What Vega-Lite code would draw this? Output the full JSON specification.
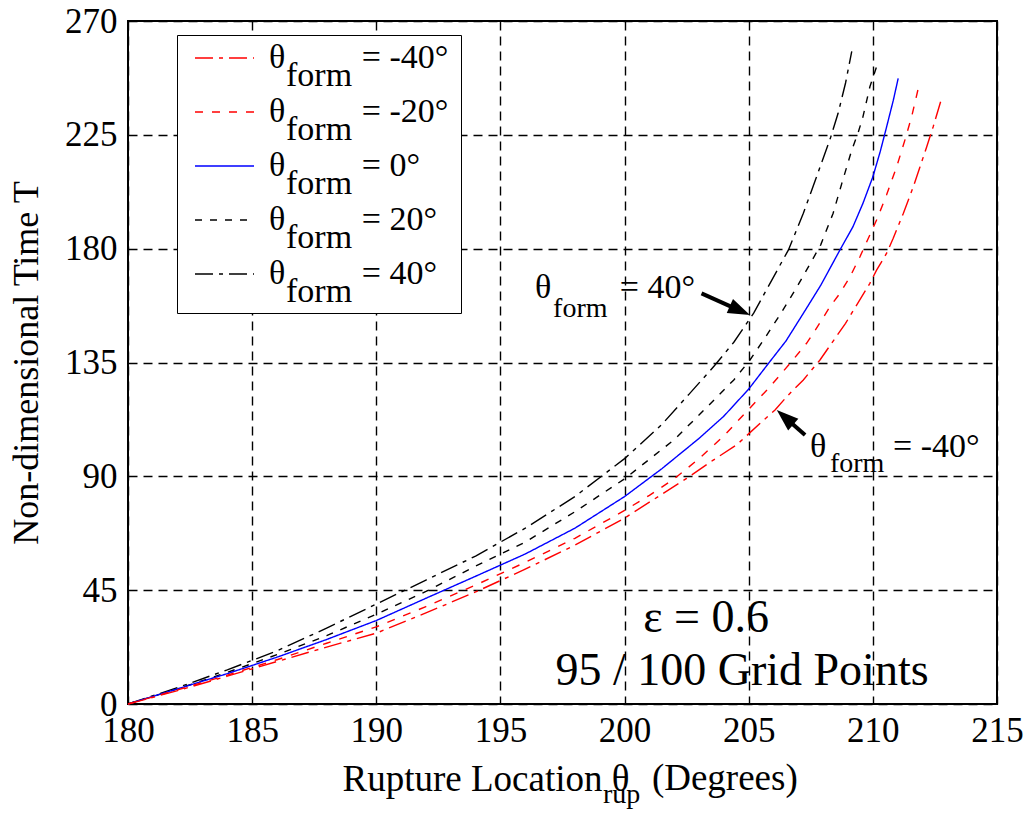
{
  "$schema": "https://vega.github.io/schema/vega-lite/v6.json",
  "width": 869,
  "height": 683,
  "autosize": {"type": "none"},
  "padding": {"left": 128, "top": 21, "right": 29, "bottom": 111},
  "background": "white",
  "config": {
    "font": "Liberation Serif",
    "view": {"stroke": "black", "strokeWidth": 2},
    "axis": {
      "grid": true,
      "gridColor": "black",
      "gridDash": [9, 6],
      "gridWidth": 1.4,
      "gridOpacity": 1,
      "domain": false,
      "ticks": false,
      "tickSize": 0,
      "labelFont": "Liberation Serif",
      "labelFontSize": 35,
      "labelColor": "black",
      "labelFlush": false,
      "labelOverlap": false,
      "titleFont": "Liberation Serif",
      "titleFontSize": 36,
      "titleFontWeight": "normal",
      "titleColor": "black"
    }
  },
  "layer": [
    {
      "data": {
        "values": [
          {"form": "40", "theta": 180, "T": 0}, {"form": "40", "theta": 182, "T": 6.5}, {"form": "40", "theta": 184, "T": 13.5}, {"form": "40", "theta": 186, "T": 21}, {"form": "40", "theta": 188, "T": 30}, {"form": "40", "theta": 190, "T": 39.5}, {"form": "40", "theta": 192, "T": 49}, {"form": "40", "theta": 194, "T": 58.5}, {"form": "40", "theta": 196, "T": 69.5}, {"form": "40", "theta": 198, "T": 82}, {"form": "40", "theta": 200, "T": 97}, {"form": "40", "theta": 201.5, "T": 110.5}, {"form": "40", "theta": 202.6, "T": 122.5}, {"form": "40", "theta": 203.6, "T": 133.5}, {"form": "40", "theta": 204.4, "T": 143}, {"form": "40", "theta": 205.2, "T": 154.5}, {"form": "40", "theta": 205.7, "T": 163.5}, {"form": "40", "theta": 206.6, "T": 179.5}, {"form": "40", "theta": 207.2, "T": 194}, {"form": "40", "theta": 207.7, "T": 207.5}, {"form": "40", "theta": 208.3, "T": 224}, {"form": "40", "theta": 208.6, "T": 233.5}, {"form": "40", "theta": 208.9, "T": 245.5}, {"form": "40", "theta": 209.15, "T": 258},
          {"form": "20", "theta": 180, "T": 0}, {"form": "20", "theta": 182, "T": 6}, {"form": "20", "theta": 184, "T": 12.5}, {"form": "20", "theta": 186, "T": 19.5}, {"form": "20", "theta": 188, "T": 27}, {"form": "20", "theta": 190, "T": 35.5}, {"form": "20", "theta": 192, "T": 44.5}, {"form": "20", "theta": 194, "T": 54.5}, {"form": "20", "theta": 196, "T": 64}, {"form": "20", "theta": 198, "T": 76}, {"form": "20", "theta": 200, "T": 89}, {"form": "20", "theta": 202, "T": 104.5}, {"form": "20", "theta": 203.2, "T": 116.2}, {"form": "20", "theta": 204.4, "T": 128.1}, {"form": "20", "theta": 205.05, "T": 136}, {"form": "20", "theta": 205.6, "T": 143.9}, {"form": "20", "theta": 206.3, "T": 154.5}, {"form": "20", "theta": 206.95, "T": 165}, {"form": "20", "theta": 207.5, "T": 174.5}, {"form": "20", "theta": 207.9, "T": 181.5}, {"form": "20", "theta": 208.4, "T": 194}, {"form": "20", "theta": 208.75, "T": 205.8}, {"form": "20", "theta": 209.15, "T": 219}, {"form": "20", "theta": 209.4, "T": 225.6}, {"form": "20", "theta": 209.6, "T": 232.1}, {"form": "20", "theta": 209.88, "T": 244}, {"form": "20", "theta": 210.15, "T": 251.9},
          {"form": "0", "theta": 180, "T": 0}, {"form": "0", "theta": 182, "T": 6}, {"form": "0", "theta": 184, "T": 12}, {"form": "0", "theta": 186, "T": 18.5}, {"form": "0", "theta": 188, "T": 25.5}, {"form": "0", "theta": 190, "T": 33}, {"form": "0", "theta": 192, "T": 41.8}, {"form": "0", "theta": 194, "T": 50.5}, {"form": "0", "theta": 196, "T": 59.3}, {"form": "0", "theta": 198, "T": 69.5}, {"form": "0", "theta": 200, "T": 82}, {"form": "0", "theta": 201.5, "T": 93}, {"form": "0", "theta": 203, "T": 105}, {"form": "0", "theta": 204, "T": 113.8}, {"form": "0", "theta": 205, "T": 124.5}, {"form": "0", "theta": 205.8, "T": 134.7}, {"form": "0", "theta": 206.5, "T": 143.5}, {"form": "0", "theta": 207.3, "T": 156}, {"form": "0", "theta": 207.9, "T": 165.5}, {"form": "0", "theta": 208.67, "T": 179.4}, {"form": "0", "theta": 209.2, "T": 188.7}, {"form": "0", "theta": 209.6, "T": 197.9}, {"form": "0", "theta": 210, "T": 208.4}, {"form": "0", "theta": 210.3, "T": 218.5}, {"form": "0", "theta": 210.55, "T": 228}, {"form": "0", "theta": 210.82, "T": 238.5}, {"form": "0", "theta": 211.02, "T": 247.3},
          {"form": "-20", "theta": 180, "T": 0}, {"form": "-20", "theta": 182, "T": 5.6}, {"form": "-20", "theta": 184, "T": 11.4}, {"form": "-20", "theta": 186, "T": 17.5}, {"form": "-20", "theta": 188, "T": 24}, {"form": "-20", "theta": 190, "T": 30.5}, {"form": "-20", "theta": 192, "T": 38.5}, {"form": "-20", "theta": 194, "T": 47}, {"form": "-20", "theta": 196, "T": 56}, {"form": "-20", "theta": 198, "T": 65.5}, {"form": "-20", "theta": 200, "T": 76.5}, {"form": "-20", "theta": 201, "T": 82.5}, {"form": "-20", "theta": 202, "T": 89}, {"form": "-20", "theta": 203, "T": 97}, {"form": "-20", "theta": 204, "T": 106}, {"form": "-20", "theta": 205, "T": 116.5}, {"form": "-20", "theta": 205.8, "T": 124.8}, {"form": "-20", "theta": 206.67, "T": 134.7}, {"form": "-20", "theta": 207.33, "T": 142.6}, {"form": "-20", "theta": 207.6, "T": 146.5}, {"form": "-20", "theta": 208.27, "T": 157}, {"form": "-20", "theta": 208.67, "T": 162.3}, {"form": "-20", "theta": 209.08, "T": 168.9}, {"form": "-20", "theta": 209.48, "T": 176.8}, {"form": "-20", "theta": 210.15, "T": 191.3}, {"form": "-20", "theta": 210.55, "T": 201.2}, {"form": "-20", "theta": 210.96, "T": 212.4}, {"form": "-20", "theta": 211.29, "T": 222.9}, {"form": "-20", "theta": 211.56, "T": 232.1}, {"form": "-20", "theta": 211.83, "T": 243.4},
          {"form": "-40", "theta": 180, "T": 0}, {"form": "-40", "theta": 182, "T": 5.3}, {"form": "-40", "theta": 184, "T": 11}, {"form": "-40", "theta": 186, "T": 16.8}, {"form": "-40", "theta": 188, "T": 22.5}, {"form": "-40", "theta": 190, "T": 28}, {"form": "-40", "theta": 192, "T": 36}, {"form": "-40", "theta": 194, "T": 44.3}, {"form": "-40", "theta": 196, "T": 53.3}, {"form": "-40", "theta": 198, "T": 62.8}, {"form": "-40", "theta": 200, "T": 73.5}, {"form": "-40", "theta": 202.5, "T": 89.2}, {"form": "-40", "theta": 203.57, "T": 96.4}, {"form": "-40", "theta": 204.51, "T": 102.4}, {"form": "-40", "theta": 205.45, "T": 110.9}, {"form": "-40", "theta": 206.06, "T": 116.2}, {"form": "-40", "theta": 206.53, "T": 121.5}, {"form": "-40", "theta": 207.2, "T": 128.1}, {"form": "-40", "theta": 207.87, "T": 136}, {"form": "-40", "theta": 208.9, "T": 150.5}, {"form": "-40", "theta": 209.88, "T": 166.3}, {"form": "-40", "theta": 210.15, "T": 171.5}, {"form": "-40", "theta": 210.55, "T": 178.1}, {"form": "-40", "theta": 210.82, "T": 184.1}, {"form": "-40", "theta": 211.23, "T": 194}, {"form": "-40", "theta": 211.63, "T": 204.5}, {"form": "-40", "theta": 211.9, "T": 212.4}, {"form": "-40", "theta": 212.17, "T": 220.3}, {"form": "-40", "theta": 212.43, "T": 228.2}, {"form": "-40", "theta": 212.73, "T": 238.1}
        ]
      },
      "mark": {"type": "line", "strokeWidth": 1.4},
      "encoding": {
        "x": {
          "field": "theta",
          "type": "quantitative",
          "scale": {"domain": [180, 215], "nice": false, "zero": false},
          "axis": {"values": [180, 185, 190, 195, 200, 205, 210, 215], "labelPadding": 9, "title": "Rupture Location θ", "titleFontSize": 37, "titleX": 214, "titleY": 86, "titleAlign": "left", "titleAnchor": "start", "titleBaseline": "alphabetic"}
        },
        "y": {
          "field": "T",
          "type": "quantitative",
          "scale": {"domain": [0, 270], "nice": false, "zero": false},
          "axis": {"values": [0, 45, 90, 135, 180, 225, 270], "labelPadding": 11, "titlePadding": 19, "title": "Non-dimensional Time T"}
        },
        "color": {
          "field": "form",
          "type": "nominal",
          "scale": {"domain": ["-40", "-20", "0", "20", "40"], "range": ["#ff0000", "#ff0000", "#0000ff", "#000000", "#000000"]},
          "legend": {
            "title": null,
            "orient": "none",
            "legendX": 49,
            "legendY": 14,
            "symbolType": "M-1.6389,0L1.6389,0",
            "symbolSize": 1296,
            "symbolStrokeWidth": 1.5,
            "symbolOffset": 24.5,
            "labelOffset": 25.5,
            "labelFont": "Liberation Serif",
            "labelFontSize": 34,
            "labelColor": "black",
            "labelBaseline": "middle",
            "labelLimit": 600,
            "labelExpr": "['θ\u00a0\u00a0\u00a0\u00a0\u00a0\u00a0\u00a0\u00a0\u00a0= ' + datum.label + '°\u00a0\u200d', '\u200d\u00a0\u00a0form']",
            "padding": 4,
            "rowPadding": 0,
            "strokeColor": "black",
            "fillColor": "white",
            "encoding": {"labels": {"lineHeight": {"value": 18}}}
          }
        },
        "strokeDash": {
          "field": "form",
          "type": "nominal",
          "scale": {"domain": ["-40", "-20", "0", "20", "40"], "range": [[18, 6, 4, 6], [8, 9], [1, 0], [7, 8], [18, 6, 4, 6]]},
          "legend": {"title": null}
        }
      }
    },
    {
      "data": {"values": [{}]},
      "mark": {"type": "text", "text": "θ", "font": "Liberation Serif", "fontSize": 34, "align": "left", "baseline": "alphabetic", "color": "black"},
      "encoding": {"x": {"datum": 196.39, "type": "quantitative"}, "y": {"datum": 160.5, "type": "quantitative"}}
    },
    {
      "data": {"values": [{}]},
      "mark": {"type": "text", "text": "= 40°", "font": "Liberation Serif", "fontSize": 34, "align": "left", "baseline": "alphabetic", "color": "black"},
      "encoding": {"x": {"datum": 199.81, "type": "quantitative"}, "y": {"datum": 160.5, "type": "quantitative"}}
    },
    {
      "data": {"values": [{}]},
      "mark": {"type": "text", "text": "form", "font": "Liberation Serif", "fontSize": 28, "align": "left", "baseline": "alphabetic", "color": "black"},
      "encoding": {"x": {"datum": 197.12, "type": "quantitative"}, "y": {"datum": 153.1, "type": "quantitative"}}
    },
    {
      "data": {"values": [{}]},
      "mark": {"type": "text", "text": "θ", "font": "Liberation Serif", "fontSize": 34, "align": "left", "baseline": "alphabetic", "color": "black"},
      "encoding": {"x": {"datum": 207.47, "type": "quantitative"}, "y": {"datum": 97.6, "type": "quantitative"}}
    },
    {
      "data": {"values": [{}]},
      "mark": {"type": "text", "text": "= -40°", "font": "Liberation Serif", "fontSize": 34, "align": "left", "baseline": "alphabetic", "color": "black"},
      "encoding": {"x": {"datum": 210.81, "type": "quantitative"}, "y": {"datum": 97.6, "type": "quantitative"}}
    },
    {
      "data": {"values": [{}]},
      "mark": {"type": "text", "text": "form", "font": "Liberation Serif", "fontSize": 28, "align": "left", "baseline": "alphabetic", "color": "black"},
      "encoding": {"x": {"datum": 208.27, "type": "quantitative"}, "y": {"datum": 91.8, "type": "quantitative"}}
    },
    {
      "data": {"values": [{}]},
      "mark": {"type": "text", "text": "ε = 0.6", "font": "Liberation Serif", "fontSize": 46, "align": "center", "baseline": "alphabetic", "color": "black"},
      "encoding": {"x": {"datum": 203.28, "type": "quantitative"}, "y": {"datum": 28.5, "type": "quantitative"}}
    },
    {
      "data": {"values": [{}]},
      "mark": {"type": "text", "text": "95 / 100 Grid Points", "font": "Liberation Serif", "fontSize": 46, "align": "center", "baseline": "alphabetic", "color": "black"},
      "encoding": {"x": {"datum": 204.73, "type": "quantitative"}, "y": {"datum": 7.5, "type": "quantitative"}}
    },
    {
      "data": {"values": [{}]},
      "mark": {"type": "text", "text": "rup", "font": "Liberation Serif", "fontSize": 28, "align": "left", "baseline": "alphabetic", "color": "black"},
      "encoding": {"x": {"datum": 199.13, "type": "quantitative"}, "y": {"datum": -39.1, "type": "quantitative"}}
    },
    {
      "data": {"values": [{}]},
      "mark": {"type": "text", "text": "(Degrees)", "font": "Liberation Serif", "fontSize": 37, "align": "left", "baseline": "alphabetic", "color": "black"},
      "encoding": {"x": {"datum": 201.1, "type": "quantitative"}, "y": {"datum": -34.0, "type": "quantitative"}}
    },
    {
      "data": {"values": [{}]},
      "mark": {"type": "rule", "strokeWidth": 4, "color": "black"},
      "encoding": {"x": {"datum": 203.1, "type": "quantitative"}, "y": {"datum": 162.3, "type": "quantitative"}, "x2": {"datum": 204.6}, "y2": {"datum": 155.7}}
    },
    {
      "data": {"values": [{}]},
      "mark": {"type": "point", "shape": "M0,0L0.35,1L-0.35,1Z", "size": 1936, "angle": 114, "filled": true, "color": "black", "opacity": 1, "strokeWidth": 0},
      "encoding": {"x": {"datum": 205.05, "type": "quantitative"}, "y": {"datum": 153.8, "type": "quantitative"}}
    },
    {
      "data": {"values": [{}]},
      "mark": {"type": "rule", "strokeWidth": 4, "color": "black"},
      "encoding": {"x": {"datum": 207.27, "type": "quantitative"}, "y": {"datum": 106.3, "type": "quantitative"}, "x2": {"datum": 206.5}, "y2": {"datum": 113}}
    },
    {
      "data": {"values": [{}]},
      "mark": {"type": "point", "shape": "M0,0L0.35,1L-0.35,1Z", "size": 1936, "angle": 311.5, "filled": true, "color": "black", "opacity": 1, "strokeWidth": 0},
      "encoding": {"x": {"datum": 206.13, "type": "quantitative"}, "y": {"datum": 116.2, "type": "quantitative"}}
    }
  ]
}
